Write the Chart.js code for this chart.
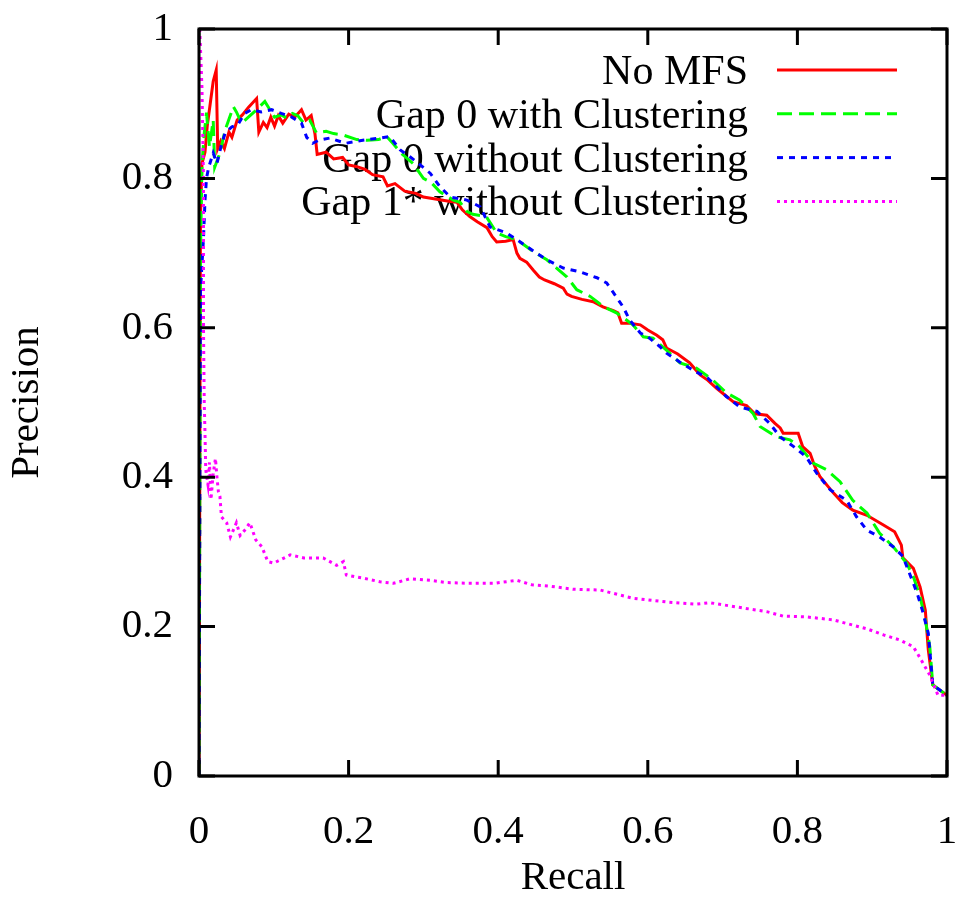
<!DOCTYPE html>
<html>
<head>
<meta charset="utf-8">
<script src="https://cdn.jsdelivr.net/npm/chart.js@4.4.0/dist/chart.umd.min.js"></script>
<style>
  body { margin: 0; background: #fff; }
  #wrap { width: 958px; height: 899px; }
</style>
</head>
<body>
<div id="wrap"><canvas id="myChart" width="958" height="899"></canvas></div>
<script>
const seriesNames = [
  "No MFS",
  "Gap 0 with Clustering",
  "Gap 0 without Clustering",
  "Gap 1* without Clustering",
];
const xTicks = [0, 0.2, 0.4, 0.6, 0.8, 1];
const yTicks = [0, 0.2, 0.4, 0.6, 0.8, 1];

// No MFS
const recallNoMfs = [0, 0.002, 0.004, 0.008, 0.011, 0.015, 0.019, 0.023, 0.025, 0.029, 0.034, 0.040, 0.044, 0.051, 0.058, 0.066, 0.077, 0.080, 0.086, 0.091, 0.096, 0.101, 0.106, 0.112, 0.120, 0.128, 0.137, 0.143, 0.150, 0.155, 0.158, 0.170, 0.180, 0.192, 0.200, 0.210, 0.222, 0.232, 0.246, 0.252, 0.262, 0.275, 0.290, 0.300, 0.318, 0.336, 0.345, 0.352, 0.362, 0.372, 0.385, 0.392, 0.398, 0.410, 0.420, 0.425, 0.429, 0.438, 0.447, 0.455, 0.462, 0.475, 0.487, 0.492, 0.498, 0.512, 0.527, 0.540, 0.554, 0.560, 0.565, 0.576, 0.590, 0.600, 0.612, 0.620, 0.625, 0.640, 0.656, 0.670, 0.680, 0.692, 0.703, 0.714, 0.732, 0.743, 0.759, 0.770, 0.777, 0.781, 0.801, 0.807, 0.817, 0.823, 0.830, 0.848, 0.860, 0.874, 0.893, 0.915, 0.930, 0.939, 0.941, 0.955, 0.964, 0.971, 0.975, 0.981, 1.0];
const precNoMfs = [0, 0.75, 0.82, 0.835, 0.87, 0.90, 0.93, 0.945, 0.84, 0.85, 0.84, 0.862, 0.855, 0.878, 0.885, 0.895, 0.907, 0.862, 0.875, 0.868, 0.882, 0.870, 0.884, 0.874, 0.886, 0.882, 0.892, 0.878, 0.884, 0.86, 0.832, 0.835, 0.826, 0.828, 0.818, 0.816, 0.812, 0.805, 0.802, 0.790, 0.793, 0.783, 0.780, 0.775, 0.772, 0.769, 0.768, 0.758, 0.749, 0.742, 0.734, 0.722, 0.715, 0.716, 0.718, 0.700, 0.693, 0.688, 0.677, 0.668, 0.664, 0.659, 0.653, 0.645, 0.642, 0.638, 0.635, 0.628, 0.623, 0.620, 0.606, 0.606, 0.604, 0.597, 0.590, 0.584, 0.573, 0.565, 0.553, 0.537, 0.530, 0.519, 0.510, 0.501, 0.496, 0.485, 0.483, 0.472, 0.466, 0.459, 0.459, 0.441, 0.432, 0.415, 0.401, 0.379, 0.366, 0.356, 0.349, 0.336, 0.327, 0.309, 0.292, 0.278, 0.253, 0.222, 0.169, 0.122, 0.108];

// Gap 0 with Clustering
const recallGap0C = [0, 0.002, 0.004, 0.007, 0.010, 0.014, 0.019, 0.021, 0.028, 0.035, 0.046, 0.050, 0.057, 0.066, 0.075, 0.088, 0.101, 0.110, 0.117, 0.125, 0.132, 0.140, 0.148, 0.157, 0.170, 0.180, 0.193, 0.211, 0.225, 0.240, 0.251, 0.260, 0.270, 0.286, 0.300, 0.310, 0.322, 0.340, 0.349, 0.358, 0.366, 0.384, 0.398, 0.410, 0.425, 0.447, 0.465, 0.478, 0.492, 0.505, 0.523, 0.541, 0.558, 0.572, 0.580, 0.594, 0.607, 0.625, 0.643, 0.665, 0.687, 0.705, 0.723, 0.741, 0.750, 0.772, 0.790, 0.803, 0.821, 0.839, 0.857, 0.874, 0.893, 0.910, 0.928, 0.946, 0.955, 0.964, 0.971, 0.977, 0.981, 1.0];
const precGap0C = [0, 0.70, 0.82, 0.86, 0.888, 0.842, 0.878, 0.815, 0.834, 0.865, 0.896, 0.889, 0.874, 0.882, 0.89, 0.903, 0.882, 0.885, 0.881, 0.887, 0.884, 0.874, 0.878, 0.861, 0.863, 0.860, 0.858, 0.852, 0.851, 0.852, 0.856, 0.846, 0.834, 0.820, 0.800, 0.795, 0.782, 0.771, 0.768, 0.756, 0.752, 0.749, 0.727, 0.722, 0.718, 0.702, 0.691, 0.680, 0.668, 0.651, 0.642, 0.628, 0.620, 0.610, 0.604, 0.588, 0.586, 0.570, 0.553, 0.546, 0.530, 0.513, 0.503, 0.485, 0.468, 0.454, 0.450, 0.441, 0.419, 0.410, 0.394, 0.369, 0.352, 0.325, 0.307, 0.285, 0.267, 0.240, 0.209, 0.173, 0.122, 0.108];

// Gap 0 without Clustering
const recallGap0 = [0, 0.002, 0.006, 0.008, 0.010, 0.013, 0.019, 0.024, 0.030, 0.035, 0.044, 0.052, 0.061, 0.070, 0.083, 0.097, 0.110, 0.124, 0.137, 0.144, 0.152, 0.160, 0.175, 0.196, 0.219, 0.242, 0.255, 0.269, 0.282, 0.291, 0.309, 0.322, 0.336, 0.358, 0.376, 0.389, 0.411, 0.425, 0.451, 0.465, 0.487, 0.509, 0.532, 0.545, 0.554, 0.567, 0.576, 0.590, 0.600, 0.616, 0.625, 0.643, 0.661, 0.680, 0.692, 0.705, 0.723, 0.746, 0.763, 0.777, 0.795, 0.812, 0.826, 0.844, 0.866, 0.879, 0.893, 0.910, 0.928, 0.941, 0.948, 0.960, 0.967, 0.975, 0.981, 1.0];
const precGap0 = [0, 0.65, 0.72, 0.77, 0.80, 0.815, 0.834, 0.820, 0.845, 0.861, 0.869, 0.872, 0.887, 0.892, 0.889, 0.892, 0.887, 0.882, 0.874, 0.855, 0.847, 0.851, 0.854, 0.847, 0.851, 0.854, 0.856, 0.838, 0.829, 0.822, 0.807, 0.789, 0.775, 0.771, 0.762, 0.735, 0.727, 0.718, 0.700, 0.691, 0.680, 0.675, 0.667, 0.660, 0.647, 0.628, 0.610, 0.593, 0.588, 0.575, 0.566, 0.554, 0.543, 0.533, 0.521, 0.508, 0.494, 0.488, 0.472, 0.454, 0.441, 0.427, 0.405, 0.383, 0.369, 0.347, 0.329, 0.320, 0.307, 0.294, 0.276, 0.245, 0.222, 0.191, 0.122, 0.108];

// Gap 1* without Clustering
const recallGap1 = [0.001, 0.004, 0.006, 0.006, 0.007, 0.008, 0.009, 0.012, 0.014, 0.016, 0.019, 0.022, 0.024, 0.026, 0.028, 0.030, 0.037, 0.042, 0.050, 0.055, 0.062, 0.068, 0.076, 0.084, 0.092, 0.100, 0.108, 0.122, 0.140, 0.166, 0.184, 0.193, 0.197, 0.219, 0.242, 0.260, 0.282, 0.309, 0.331, 0.360, 0.395, 0.425, 0.445, 0.470, 0.500, 0.536, 0.580, 0.625, 0.665, 0.683, 0.714, 0.759, 0.781, 0.812, 0.848, 0.874, 0.893, 0.915, 0.937, 0.955, 0.964, 0.977, 0.988, 1.0];
const precGap1 = [1.0, 0.92, 0.80, 0.60, 0.50, 0.46, 0.41, 0.39, 0.42, 0.37, 0.405, 0.425, 0.40, 0.38, 0.374, 0.347, 0.339, 0.32, 0.339, 0.322, 0.33, 0.339, 0.316, 0.307, 0.287, 0.285, 0.289, 0.296, 0.292, 0.292, 0.282, 0.287, 0.269, 0.265, 0.260, 0.258, 0.264, 0.262, 0.259, 0.258, 0.258, 0.262, 0.256, 0.254, 0.250, 0.249, 0.238, 0.233, 0.230, 0.232, 0.227, 0.220, 0.214, 0.213, 0.209, 0.202, 0.197, 0.189, 0.182, 0.173, 0.158, 0.135, 0.108, 0.108];

const toPoints = (xs, ys) => xs.map((x, i) => ({ x: x, y: ys[i] }));

const FONT = "'Liberation Serif', 'Times New Roman', serif";

// gnuplot style frame with inward ticks on all four sides
const framePlugin = {
  id: "frame",
  afterDraw(chart) {
    const ctx = chart.ctx;
    const a = chart.chartArea;
    const xs = chart.scales.x;
    const ys = chart.scales.y;
    const len = 16;
    ctx.save();
    ctx.strokeStyle = "#000";
    ctx.lineWidth = 3;
    ctx.beginPath();
    xTicks.forEach((v) => {
      const px = xs.getPixelForValue(v);
      ctx.moveTo(px, a.bottom);
      ctx.lineTo(px, a.bottom - len);
      ctx.moveTo(px, a.top);
      ctx.lineTo(px, a.top + len);
    });
    yTicks.forEach((v) => {
      const py = ys.getPixelForValue(v);
      ctx.moveTo(a.left, py);
      ctx.lineTo(a.left + len, py);
      ctx.moveTo(a.right, py);
      ctx.lineTo(a.right - len, py);
    });
    ctx.stroke();
    ctx.strokeRect(a.left, a.top, a.right - a.left, a.bottom - a.top);
    ctx.restore();
  },
};

// key in the top right: text right aligned, line sample on its right
const keyPlugin = {
  id: "key",
  beforeDatasetsDraw(chart) {
    const ctx = chart.ctx;
    ctx.save();
    ctx.font = "42px " + FONT;
    ctx.textAlign = "right";
    ctx.textBaseline = "alphabetic";
    chart.data.datasets.forEach((ds, i) => {
      const y = 70 + i * 43.8;
      ctx.fillStyle = "#000";
      ctx.fillText(ds.label, 748, y + 14);
      ctx.strokeStyle = ds.borderColor;
      ctx.lineWidth = ds.borderWidth;
      ctx.setLineDash(ds.borderDash || []);
      ctx.beginPath();
      ctx.moveTo(777, y);
      ctx.lineTo(897, y);
      ctx.stroke();
    });
    ctx.restore();
  },
};

const ctx = document.getElementById("myChart").getContext("2d");
new Chart(ctx, {
  type: "scatter",
  data: {
    datasets: [
      {
        label: seriesNames[0],
        data: toPoints(recallNoMfs, precNoMfs),
        borderColor: "#ff0000",
        borderWidth: 3,
        borderDash: [],
        order: 4,
      },
      {
        label: seriesNames[1],
        data: toPoints(recallGap0C, precGap0C),
        borderColor: "#00ff00",
        borderWidth: 3,
        borderDash: [15, 7],
        order: 3,
      },
      {
        label: seriesNames[2],
        data: toPoints(recallGap0, precGap0),
        borderColor: "#0000ff",
        borderWidth: 3,
        borderDash: [6, 6],
        order: 2,
      },
      {
        label: seriesNames[3],
        data: toPoints(recallGap1, precGap1),
        borderColor: "#ff00ff",
        borderWidth: 3,
        borderDash: [3, 4],
        order: 1,
      },
    ],
  },
  options: {
    responsive: false,
    animation: false,
    showLine: true,
    elements: {
      point: { radius: 0, hoverRadius: 0 },
      line: { tension: 0, fill: false, borderJoinStyle: "miter" },
    },
    layout: { padding: { top: 29, right: 11, left: 0, bottom: 0 } },
    plugins: {
      legend: { display: false },
      tooltip: { enabled: false },
    },
    scales: {
      x: {
        type: "linear",
        min: 0,
        max: 1,
        afterBuildTicks: (scale) => {
          scale.ticks = xTicks.map((v) => ({ value: v }));
        },
        afterFit: (scale) => {
          scale.height = 123;
          scale.paddingLeft = 0;
          scale.paddingRight = 0;
        },
        grid: { display: false, drawTicks: false },
        border: { display: false },
        ticks: {
          color: "#000",
          font: { family: FONT, size: 41 },
          padding: 32,
          maxRotation: 0,
          callback: (v) => String(v),
        },
        title: {
          display: true,
          text: "Recall",
          color: "#000",
          font: { family: FONT, size: 41, lineHeight: 1 },
          padding: { top: 0, bottom: 0 },
        },
      },
      y: {
        type: "linear",
        min: 0,
        max: 1,
        afterBuildTicks: (scale) => {
          scale.ticks = yTicks.map((v) => ({ value: v }));
        },
        afterFit: (scale) => {
          scale.width = 199;
          scale.paddingTop = 0;
          scale.paddingBottom = 0;
        },
        grid: { display: false, drawTicks: false },
        border: { display: false },
        ticks: {
          color: "#000",
          font: { family: FONT, size: 41 },
          padding: 26,
          callback: (v) => String(v),
        },
        title: {
          display: true,
          text: "Precision",
          color: "#000",
          font: { family: FONT, size: 41, lineHeight: 1 },
          padding: { top: 7, bottom: 0 },
        },
      },
    },
  },
  plugins: [framePlugin, keyPlugin],
});
</script>
</body>
</html>
